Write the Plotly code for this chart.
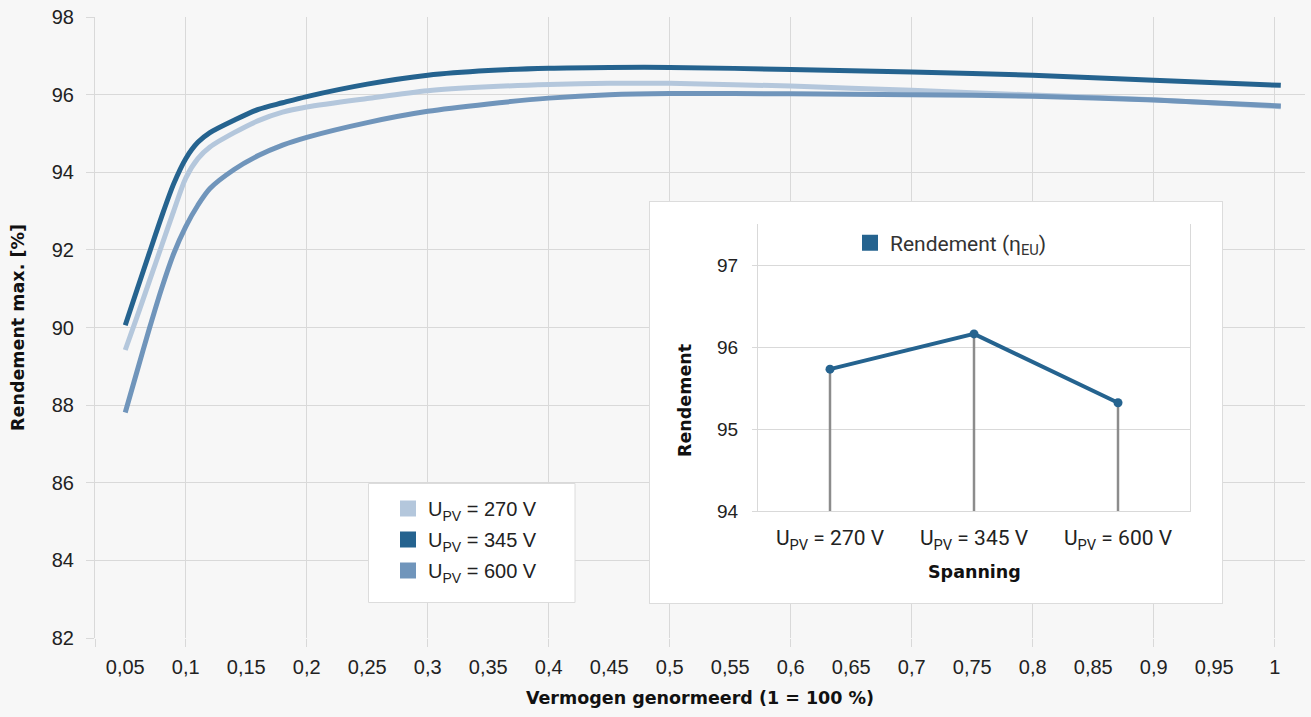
import plotly.graph_objects as go

# ---------------- data ----------------
power = [0.05, 0.06, 0.07, 0.08, 0.09, 0.1, 0.11, 0.12, 0.14, 0.16, 0.18, 0.2,
         0.25, 0.3, 0.35, 0.4, 0.45, 0.5, 0.6, 0.7, 0.8, 0.9, 1.005]
eff_270 = [89.42, 90.30, 91.20, 92.10, 93.00, 93.85, 94.35, 94.65, 95.02, 95.33, 95.55, 95.68,
           95.90, 96.10, 96.20, 96.26, 96.29, 96.29, 96.22, 96.11, 95.99, 95.87, 95.69]
eff_345 = [90.06, 91.00, 91.93, 92.85, 93.70, 94.35, 94.77, 95.02, 95.34, 95.62, 95.79, 95.95,
           96.27, 96.50, 96.62, 96.68, 96.70, 96.70, 96.65, 96.58, 96.50, 96.37, 96.24]
eff_600 = [87.81, 88.90, 89.98, 91.00, 91.90, 92.60, 93.15, 93.58, 94.07, 94.43, 94.70, 94.90,
           95.28, 95.57, 95.76, 95.91, 96.00, 96.03, 96.02, 96.00, 95.96, 95.86, 95.71]

series_names = ["U<sub>PV</sub> = 270 V", "U<sub>PV</sub> = 345 V", "U<sub>PV</sub> = 600 V"]
series_colors = ["#b4c7dc", "#25638f", "#7095bb"]

x_tickvals = [0.05, 0.1, 0.15, 0.2, 0.25, 0.3, 0.35, 0.4, 0.45, 0.5,
              0.55, 0.6, 0.65, 0.7, 0.75, 0.8, 0.85, 0.9, 0.95, 1.0]
x_ticktext = ["0,05", "0,1", "0,15", "0,2", "0,25", "0,3", "0,35", "0,4", "0,45", "0,5",
              "0,55", "0,6", "0,65", "0,7", "0,75", "0,8", "0,85", "0,9", "0,95", "1"]
x_gridvals = [0.025, 0.1, 0.2, 0.3, 0.4, 0.5, 0.6, 0.7, 0.8, 0.9, 1.0]
y_tickvals = [82, 84, 86, 88, 90, 92, 94, 96, 98]

inset_categories = series_names
inset_eff = [95.73, 96.16, 95.32]
inset_name = "Rendement (η<sub>EU</sub>)"
inset_yticks = [94, 95, 96, 97]
inset_yrange = [94, 97.5]

# ---------------- style ----------------
GRID = "#d9d9d9"
TXT = "#222222"
SANS = "Liberation Sans, Arial, sans-serif"
BOLD = dict(family="DejaVu Sans, sans-serif", size=17.5, color="#111111", weight="bold")
INSET_COLOR = "#25638f"

fig = go.Figure()

# main curves
for name, ys, col in zip(series_names, [eff_270, eff_345, eff_600], series_colors):
    fig.add_trace(go.Scatter(x=power, y=ys, mode="lines", name=name,
                             line=dict(color=col, width=5, shape="spline", smoothing=0.8),
                             showlegend=False, xaxis="x", yaxis="y"))
# legend entries (square swatches)
for i, (name, col) in enumerate(zip(series_names, series_colors)):
    fig.add_trace(go.Scatter(x=[None], y=[None], mode="markers", name=name,
                             marker=dict(symbol="square", size=16, color=col),
                             legendgroup=f"g{i}", legend="legend", xaxis="x", yaxis="y"))

# empty trace so that the inset's white panel subplot (x2/y2) is created
fig.add_trace(go.Scatter(x=[None], y=[None], mode="markers", showlegend=False,
                         hoverinfo="skip", xaxis="x2", yaxis="y2"))

# inset drop lines
for cat, val in zip(inset_categories, inset_eff):
    fig.add_trace(go.Scatter(x=[cat, cat], y=[inset_yrange[0], val], mode="lines",
                             line=dict(color="#8c8c8c", width=2.5), showlegend=False,
                             hoverinfo="skip", xaxis="x3", yaxis="y3"))
# inset line
fig.add_trace(go.Scatter(x=inset_categories, y=inset_eff, mode="lines+markers", name=inset_name,
                         line=dict(color=INSET_COLOR, width=4),
                         marker=dict(color=INSET_COLOR, size=9),
                         showlegend=False, xaxis="x3", yaxis="y3"))
fig.add_trace(go.Scatter(x=[None], y=[None], mode="markers", name=inset_name,
                         marker=dict(symbol="square", size=16, color=INSET_COLOR),
                         legend="legend2", xaxis="x3", yaxis="y3"))

# ---------------- layout ----------------
W, H = 1311, 717
L, R, T, B = 95, 6, 17, 79
pw, ph = W - L - R, H - T - B


def px_x(x):
    return (x - L) / pw


def px_y(y):
    return (H - B - y) / ph


fig.update_layout(
    width=W, height=H,
    margin=dict(l=L, r=R, t=T, b=B, autoexpand=False),
    paper_bgcolor="#f7f7f7", plot_bgcolor="#ffffff",
    font=dict(family=SANS, size=20, color=TXT),
    xaxis=dict(domain=[0, 1], anchor="y", range=[0.025, 1.025], tickmode="array",
               tickvals=x_tickvals, ticktext=x_ticktext, showgrid=False, zeroline=False,
               ticks="outside", ticklen=8, tickcolor="rgba(0,0,0,0)", ticklabelstandoff=3,
               minor=dict(tickmode="array", tickvals=x_gridvals, showgrid=True, gridcolor=GRID,
                          gridwidth=1, ticks="outside", ticklen=8, tickcolor=GRID),
               title=dict(text="Vermogen genormeerd (1 = 100 %)", font=BOLD, standoff=14)),
    yaxis=dict(domain=[0, 1], anchor="x", range=[82, 98], tickvals=y_tickvals,
               showgrid=True, gridcolor=GRID, gridwidth=1, zeroline=False,
               ticks="outside", ticklen=8, tickcolor=GRID, ticklabelstandoff=8,
               showline=True, linecolor=GRID, linewidth=1,
               title=dict(text="Rendement max. [%]", font=BOLD, standoff=22)),
    xaxis2=dict(domain=[px_x(650), px_x(1222)], anchor="y2", range=[0, 1], showline=True,
                mirror=True, linecolor="#dcdcdc", showgrid=False, zeroline=False,
                showticklabels=False, ticks="", fixedrange=True),
    yaxis2=dict(domain=[px_y(603), px_y(202)], anchor="x2", range=[0, 1], showline=True,
                mirror=True, linecolor="#dcdcdc", showgrid=False, zeroline=False,
                showticklabels=False, ticks="", fixedrange=True),
    xaxis3=dict(domain=[px_x(758), px_x(1190)], anchor="y3", type="category",
                range=[-0.5, 2.5], showgrid=False, zeroline=False, showline=True,
                linecolor=GRID, ticks="", ticklabelstandoff=8,
                tickfont=dict(family="Roboto, sans-serif", size=21, color=TXT)),
    yaxis3=dict(domain=[px_y(511), px_y(224)], anchor="x3", range=inset_yrange,
                tickvals=inset_yticks, showgrid=True, gridcolor=GRID, zeroline=False,
                showline=True, mirror=True, linecolor=GRID, ticks="outside", ticklen=5,
                tickcolor=GRID, ticklabelstandoff=10,
                tickfont=dict(family=SANS, size=19, color=TXT)),
    legend=dict(x=px_x(388), y=px_y(489), xanchor="left", yanchor="top",
                bgcolor="rgba(0,0,0,0)", borderwidth=0, traceorder="grouped",
                tracegroupgap=2, font=dict(family=SANS, size=20, color=TXT)),
    legend2=dict(x=px_x(850), y=px_y(243), xanchor="left", yanchor="middle",
                 bgcolor="rgba(0,0,0,0)", borderwidth=0,
                 font=dict(family="Roboto, sans-serif", size=21, color="#333333")),
    shapes=[
        # main plot area colour (sits under the main grid)
        dict(type="rect", xref="paper", yref="paper", x0=0, x1=1, y0=0, y1=1,
             fillcolor="#f7f7f7", line=dict(width=0), layer="below"),
        # main legend box
        dict(type="rect", xref="paper", yref="paper", x0=px_x(368.5), x1=px_x(575),
             y0=px_y(602.5), y1=px_y(483.5), fillcolor="#ffffff",
             line=dict(color="#dcdcdc", width=1), layer="above"),
    ],
    annotations=[
        dict(text="Spanning", xref="paper", yref="paper", x=px_x(974), y=px_y(572),
             showarrow=False, font=BOLD, xanchor="center", yanchor="middle"),
        dict(text="Rendement", xref="paper", yref="paper", x=px_x(685), y=px_y(401),
             showarrow=False, font=BOLD, textangle=-90, xanchor="center", yanchor="middle"),
    ],
)

fig.write_html(
    "out.html",
    config={"displayModeBar": False},
    post_script="document.body.style.margin='0px';document.body.style.background='#f7f7f7';",
)
